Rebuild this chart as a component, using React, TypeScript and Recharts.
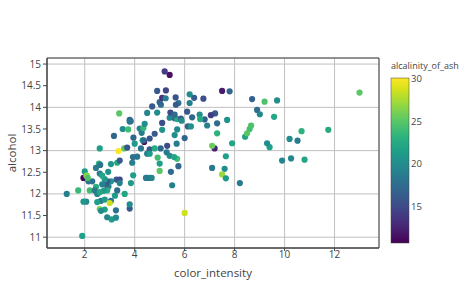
import { ScatterChart, Scatter, XAxis, YAxis, CartesianGrid, Cell, ReferenceArea } from "recharts";

// wine dataset: color_intensity (x), alcohol (y), alcalinity_of_ash (colour)
const colorIntensity = [
  5.64, 4.38, 5.68, 7.8, 4.32, 6.75, 5.25, 5.05, 5.2, 7.22, 5.75, 5, 5.6, 5.4, 7.5, 7.3, 6.2, 6.6, 8.7, 5.1,
  5.65, 4.5, 3.8, 3.93, 3.52, 3.58, 4.8, 3.95, 4.5, 4.7, 5.7, 6.9, 3.84, 5.4, 4.2, 5.1, 4.6, 4.25, 3.7, 5.1,
  6.13, 4.28, 5.43, 4.36, 5.04, 5.24, 4.9, 6.1, 6.2, 8.9, 7.2, 5.6, 7.05, 6.3, 5.85, 6.25, 6.38, 6, 6.8,
  1.95, 3.27, 5.75, 3.8, 4.45, 2.95, 4.6, 5.3, 4.68, 3.17, 2.85, 3.05, 3.38, 3.74, 3.35, 3.21, 3.8, 4.6, 2.65, 3.4,
  2.57, 2.5, 3.9, 2.2, 4.8, 3.05, 2.62, 2.45, 2.6, 2.8, 1.74, 2.4, 3.6, 3.05, 2.15, 3.25, 2.6, 2.5, 2.9, 4.5,
  2.3, 3.3, 2.45, 2.8, 2.06, 2.94, 2.7, 3.4, 3.3, 2.7, 2.65, 2.9, 2, 3.8, 3.08, 2.9, 1.9, 1.95, 2.06, 3.4,
  1.28, 3.25, 6, 2.08, 2.6, 2.8, 2.76, 3.94, 3, 2.12, 2.6,
  4.1, 5.4, 5.7, 5, 5.45, 7.1, 3.85, 5, 5.7, 4.92, 4.6, 5.6, 4.35, 4.4, 8.21, 4, 4.9, 7.65, 8.42, 9.4,
  8.6, 10.8, 7.1, 10.52, 7.6, 7.9, 9.01, 7.5, 13, 11.75, 7.65, 5.88, 5.58, 5.28, 9.58, 6.62, 10.68, 10.26, 8.66, 8.5,
  5.5, 9.9, 9.7, 7.7, 7.3, 10.2, 9.3, 9.2,
];
const alcohol = [
  14.23, 13.2, 13.16, 14.37, 13.24, 14.2, 14.39, 14.06, 14.83, 13.86, 14.1, 14.12, 13.75, 14.75, 14.38, 13.63, 14.3, 13.83, 14.19, 13.64,
  14.06, 12.93, 13.71, 12.85, 13.5, 13.05, 13.39, 13.3, 13.87, 14.02, 13.73, 13.58, 13.68, 13.76, 13.51, 13.48, 13.28, 13.05, 13.07, 14.22,
  13.56, 13.41, 13.88, 13.24, 13.05, 14.21, 14.38, 13.9, 14.1, 13.94, 13.05, 13.83, 13.82, 13.77, 13.74, 13.56, 14.22, 13.29, 13.72,
  12.37, 12.33, 12.64, 13.67, 12.37, 12.17, 12.37, 13.11, 12.37, 13.34, 12.21, 12.29, 13.86, 13.49, 12.99, 11.96, 11.66, 13.03, 11.84, 12.33,
  12.7, 12, 12.72, 12.08, 13.05, 11.84, 12.67, 12.16, 11.65, 11.64, 12.08, 12.08, 12, 12.69, 12.29, 11.62, 12.47, 11.81, 12.29, 12.37,
  12.29, 12.08, 12.6, 12.34, 11.82, 12.51, 12.42, 12.25, 12.72, 12.22, 11.61, 11.46, 12.52, 11.76, 11.41, 12.08, 11.03, 11.82, 12.42, 12.77,
  12, 11.45, 11.56, 12.42, 13.05, 11.87, 12.07, 12.43, 11.79, 12.37, 12.04,
  12.86, 12.88, 12.81, 12.7, 12.51, 12.6, 12.25, 12.53, 13.49, 12.84, 12.93, 13.36, 13.52, 13.62, 12.25, 13.16, 13.88, 12.87, 13.32, 13.08,
  13.5, 12.79, 13.11, 13.23, 12.58, 13.17, 13.84, 12.45, 14.34, 13.48, 12.36, 13.69, 12.85, 12.96, 13.78, 13.73, 13.45, 12.82, 13.58, 13.4,
  12.2, 12.77, 14.16, 13.71, 13.4, 13.27, 13.17, 14.13,
];
const alcalinity = [
  15.6, 11.2, 18.6, 16.8, 21, 15.2, 14.6, 17.6, 14, 16, 18, 16.8, 16, 11.4, 12, 17.2, 20, 20, 16.5, 15.2,
  16, 18.6, 16.6, 17.8, 20, 25, 16.1, 17, 19.4, 16, 22.5, 19.1, 17.2, 19.5, 19, 20.5, 15.5, 18, 15.5, 13.2,
  16.2, 18.8, 15, 17.5, 17, 18.9, 16, 16, 18.8, 17.4, 12.4, 17.2, 14, 17.1, 16.4, 20.5, 16.3, 16.8, 16.7,
  10.6, 16, 16.8, 18, 19, 19, 18.1, 15, 19.6, 17, 16.8, 20.4, 25, 24, 30, 21, 16, 16, 18, 14.8,
  23, 19, 18.8, 24, 22.5, 18, 18, 22.8, 26, 21.6, 23.6, 18.5, 22, 20.7, 18, 18, 19, 21.5, 16, 18.5,
  18, 17.5, 18.5, 21, 19.5, 20.5, 22, 19, 22.5, 19, 20, 19.5, 21, 20, 21, 22.5, 21.5, 20.8, 22.5, 16,
  19, 20, 28.5, 26.5, 21.5, 21, 21, 21.5, 28.5, 24.5, 22,
  18, 20, 24, 21.5, 17.5, 18.5, 21, 25, 19.5, 24, 21, 20, 23.5, 20, 18.5, 21, 20, 21.5, 21.5, 21.5,
  24, 22, 25.5, 18.5, 20, 22, 19.5, 27, 25, 22.5, 21, 20, 22, 18.5, 22, 22.5, 23, 19.5, 24.5, 25,
  19, 19.5, 20, 20.5, 23, 20, 20, 24.5,
];

const xTicks = [2, 4, 6, 8, 10, 12];
const yTicks = [11, 11.5, 12, 12.5, 13, 13.5, 14, 14.5, 15];
const cbTicks = [15, 20, 25, 30];
const cMin = 10.6;
const cMax = 30;

const viridis = [
  "#440154", "#48186a", "#472d7b", "#424086", "#3b528b", "#33638d", "#2c728e", "#26828e", "#21918c",
  "#1fa088", "#28ae80", "#3fbc73", "#5ec962", "#84d44b", "#addc30", "#d8e219", "#fde725",
];

function hex(c: string) {
  return [1, 3, 5].map((i) => parseInt(c.slice(i, i + 2), 16));
}

function viridisColor(v: number) {
  const t = Math.max(0, Math.min(1, (v - cMin) / (cMax - cMin)));
  const p = t * (viridis.length - 1);
  const i = Math.min(viridis.length - 2, Math.floor(p));
  const f = p - i;
  const a = hex(viridis[i]);
  const b = hex(viridis[i + 1]);
  const m = a.map((x, k) => Math.round(x + (b[k] - x) * f));
  return `rgb(${m[0]},${m[1]},${m[2]})`;
}

const data = alcohol.map((a, i) => ({ x: colorIntensity[i], y: a, c: alcalinity[i] }));

const font = "'Open Sans', verdana, arial, sans-serif";
const ink = "#444";

// colorbar geometry (px)
const cbLeft = 391;
const cbTop = 78;
const cbBottom = 243;
const cbWidth = 18;
const cbY = (v: number) => cbBottom - ((v - cMin) / (cMax - cMin)) * (cbBottom - cbTop);

function ColorBar() {
  return (
    <svg width={474} height={296} style={{ position: "absolute", left: 0, top: 0, pointerEvents: "none" }}>
      <defs>
        <linearGradient id="vir" x1="0" y1="1" x2="0" y2="0">
          {viridis.map((c, i) => (
            <stop key={i} offset={i / (viridis.length - 1)} stopColor={c} />
          ))}
        </linearGradient>
      </defs>
      <text x={cbLeft} y={69} fontSize={9} fill={ink} fontFamily={font}>alcalinity_of_ash</text>
      <rect x={cbLeft} y={cbTop} width={cbWidth} height={cbBottom - cbTop} fill="url(#vir)" stroke={ink} strokeWidth={0.5} />
      {cbTicks.map((t) => (
        <text key={t} x={cbLeft + cbWidth + 2} y={cbY(t) + 4} fontSize={9.5} fill={ink} fontFamily={font}>{t}</text>
      ))}
    </svg>
  );
}

export default function App() {
  return (
    <div style={{ position: "absolute", left: 0, top: 0, width: 474, height: 296, background: "#fff", fontFamily: font }}>
      <ScatterChart width={474} height={296} margin={{ top: 58, right: 95, bottom: 18, left: 0 }}>
        <CartesianGrid stroke="#c0c0c0" strokeWidth={1} />
        <XAxis
          type="number"
          dataKey="x"
          domain={[0.49, 13.78]}
          ticks={xTicks}
          allowDataOverflow
          height={30}
          tickSize={3}
          tickMargin={0}
          tick={{ fontSize: 10, fill: ink, fontFamily: font }}
          axisLine={{ stroke: ink }}
          tickLine={{ stroke: ink }}
          label={{ value: "color_intensity", position: "insideBottom", offset: 1, style: { fontSize: 11.5, fill: ink, fontFamily: font } }}
        />
        <YAxis
          type="number"
          dataKey="y"
          domain={[10.75, 15.14]}
          ticks={yTicks}
          allowDataOverflow
          width={47}
          tickSize={4}
          tickMargin={2}
          tick={{ fontSize: 10, fill: ink, fontFamily: font }}
          axisLine={{ stroke: ink }}
          tickLine={{ stroke: ink }}
          label={{ value: "alcohol", angle: -90, position: "insideLeft", offset: 12, style: { textAnchor: "middle", fontSize: 11.5, fill: ink, fontFamily: font } }}
        />
        <ReferenceArea x1={0.49} x2={13.78} y1={10.75} y2={15.14} fill="none" stroke={ink} strokeWidth={1} />
        <Scatter data={data} isAnimationActive={false} shape={(p: any) => <circle cx={p.cx} cy={p.cy} r={3.1} fill={p.fill} />}>
          {data.map((d, i) => (
            <Cell key={i} fill={viridisColor(d.c)} />
          ))}
        </Scatter>
      </ScatterChart>
      <ColorBar />
    </div>
  );
}
